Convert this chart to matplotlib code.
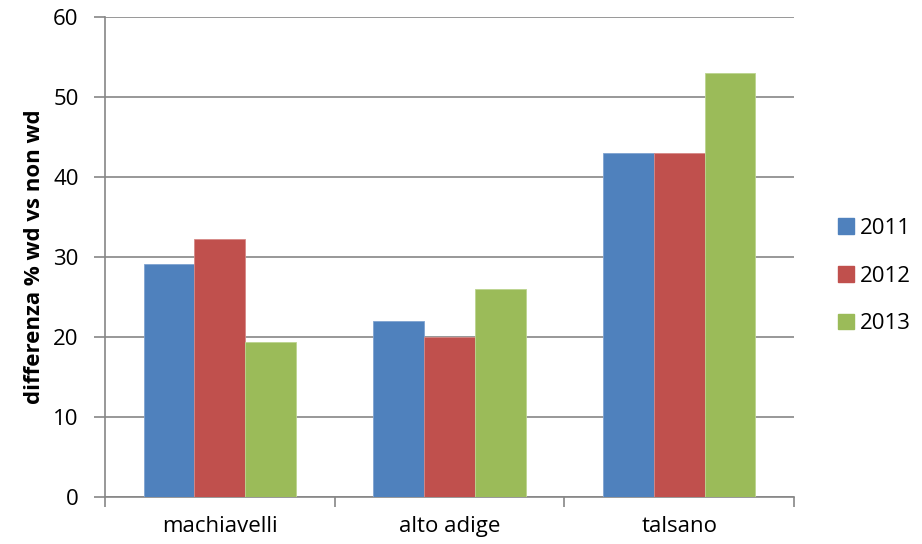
import matplotlib
matplotlib.use("Agg")
import matplotlib.pyplot as plt
import numpy as np
from matplotlib.patches import Patch

categories = ["machiavelli", "alto adige", "talsano"]
years = ["2011", "2012", "2013"]
values_2011 = [29.1, 22.0, 43.0]
values_2012 = [32.3, 20.0, 43.0]
values_2013 = [19.4, 26.0, 53.0]
series = [values_2011, values_2012, values_2013]
colors = ["#4F81BD", "#C0504D", "#9BBB59"]
edges = ["#7FA3D0", "#D68986", "#BCD48F"]
y_ticks = [0, 10, 20, 30, 40, 50, 60]

plt.rcParams["font.family"] = ["Open Sans", "DejaVu Sans"]

fig = plt.figure(figsize=(9.22, 5.44), dpi=100)
ax = fig.add_axes([105 / 922, 47 / 544, 689 / 922, 480 / 544])

x = np.arange(len(categories))
bar_w = 0.2215
for i, (vals, c, ec) in enumerate(zip(series, colors, edges)):
    ax.bar(x + (i - 1) * bar_w, vals, width=bar_w, color=c,
           edgecolor=ec, linewidth=0.6, zorder=3)

grid_c = "#868686"
ax.set_xlim(-0.5, 2.5)
ax.set_ylim(0, 60)
ax.set_yticks(y_ticks)
ax.yaxis.grid(True, color=grid_c, linewidth=1.2, zorder=0)
ax.set_axisbelow(True)

ax.set_xticks(x)
ax.set_xticklabels(categories, fontsize=16)
ax.set_xticks([-0.5, 0.5, 1.5, 2.5], minor=True)
ax.tick_params(axis="x", which="major", length=0, pad=14)
ax.tick_params(axis="x", which="minor", length=7, width=1.2, color=grid_c)
ax.tick_params(axis="y", length=8, width=1.2, color=grid_c, labelsize=16, pad=11)

for side in ["top", "right"]:
    ax.spines[side].set_visible(False)
for side in ["left", "bottom"]:
    ax.spines[side].set_color(grid_c)
    ax.spines[side].set_linewidth(1.2)

ax.set_ylabel("differenza % wd vs non wd", fontsize=16, fontweight="bold", labelpad=6)

handles = [Patch(facecolor=c, edgecolor=c) for c in colors]
fig.legend(handles, years, loc="center left", bbox_to_anchor=(818 / 922, 1 - 276 / 544),
           frameon=False, fontsize=16, handlelength=0.7, handleheight=0.7,
           handletextpad=0.3, labelspacing=1.2)

fig.savefig("out.png", dpi=100)
